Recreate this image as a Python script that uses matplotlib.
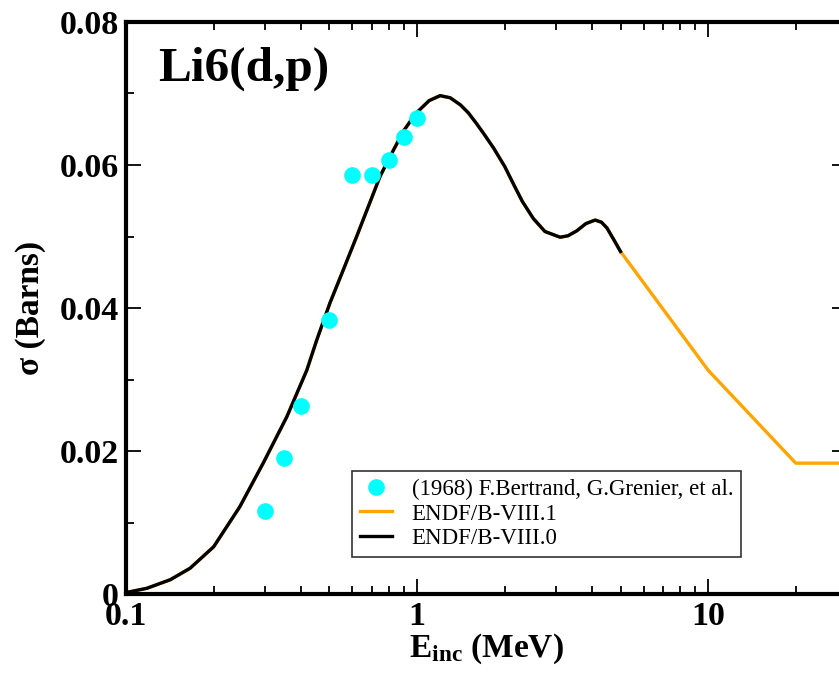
import matplotlib
matplotlib.use("Agg")
import matplotlib.pyplot as plt
from matplotlib.ticker import FixedLocator, NullFormatter

# Experimental data (1968) F.Bertrand, G.Grenier, et al.
exp_e = [0.3, 0.35, 0.4, 0.5, 0.6, 0.7, 0.8, 0.9, 1.0]
exp_xs = [0.0116, 0.0190, 0.0263, 0.0383, 0.0586, 0.0586, 0.0607, 0.0639, 0.0666]

# ENDF/B-VIII.0
b80_e = [0.1, 0.118, 0.142, 0.166, 0.2, 0.246, 0.296, 0.357, 0.418, 0.452, 0.502,
         0.56, 0.62, 0.7, 0.746, 0.808, 0.9, 0.99, 1.1, 1.2, 1.3, 1.41, 1.5, 1.6,
         1.7, 1.83, 2.0, 2.14, 2.3, 2.51, 2.75, 3.1, 3.3, 3.54, 3.8, 4.09, 4.3,
         4.49, 4.75, 5.0]
b80_xs = [0.0002, 0.0008, 0.0020, 0.0036, 0.0066, 0.0122, 0.0183, 0.0248, 0.0313,
          0.0355, 0.0407, 0.0455, 0.0500, 0.0555, 0.0584, 0.0612, 0.0648, 0.0672,
          0.0690, 0.0697, 0.0694, 0.0684, 0.0673, 0.0658, 0.0643, 0.0624, 0.0598,
          0.0574, 0.0549, 0.0525, 0.0507, 0.0499, 0.0501, 0.0508, 0.0518, 0.0523,
          0.0520, 0.0512, 0.0495, 0.0479]

# ENDF/B-VIII.1
b81_e = b80_e + [10.0, 20.0, 30.0]
b81_xs = b80_xs + [0.0313, 0.0183, 0.0183]

x_ticks = [0.1, 1, 10]
x_ticklabels = ['0.1', '1', '10']
y_ticks = [0, 0.02, 0.04, 0.06, 0.08]
y_ticklabels = ['0', '0.02', '0.04', '0.06', '0.08']

plt.rcParams['font.family'] = ['Liberation Serif', 'DejaVu Serif']
plt.rcParams['mathtext.fontset'] = 'custom'
plt.rcParams['mathtext.bf'] = 'Liberation Serif:bold'
plt.rcParams['mathtext.rm'] = 'Liberation Serif'
plt.rcParams['mathtext.it'] = 'Liberation Serif:italic'

fig = plt.figure(figsize=(8.39, 6.73), dpi=100)
ax = fig.add_axes([126/839, 1-594/673, (847-126)/839, (594-22)/673])

l81, = ax.plot(b81_e, b81_xs, color='#ffa500', lw=2.4, label='ENDF/B-VIII.1', zorder=2)
l80, = ax.plot(b80_e, b80_xs, color='black', lw=2.4, label='ENDF/B-VIII.0', zorder=3)
pts, = ax.plot(exp_e, exp_xs, 'o', color='#00ffff', ms=12, mec='none',
               label='(1968) F.Bertrand, G.Grenier, et al.', zorder=4)

ax.set_xscale('log')
ax.set_xlim(0.1, 30)
ax.set_ylim(0, 0.08)

ax.xaxis.set_major_locator(FixedLocator(x_ticks))
ax.set_xticklabels(x_ticklabels)
ax.xaxis.set_minor_locator(FixedLocator([0.2, 0.3, 0.4, 0.5, 0.6, 0.7, 0.8, 0.9,
                                         2, 3, 4, 5, 6, 7, 8, 9, 20]))
ax.xaxis.set_minor_formatter(NullFormatter())
ax.set_yticks(y_ticks)
ax.set_yticklabels(y_ticklabels)
ax.yaxis.set_minor_locator(FixedLocator([0.01, 0.03, 0.05, 0.07]))

ax.tick_params(which='both', direction='in', top=True, right=True, width=1.3)
ax.tick_params(which='major', length=11, labelsize=24.5, pad=5)
ax.tick_params(which='minor', length=6)
for lab in ax.get_xticklabels() + ax.get_yticklabels():
    lab.set_fontweight('bold')
for s in ax.spines.values():
    s.set_linewidth(3)

ax.set_ylabel('σ (Barns)', fontsize=24, fontweight='bold', labelpad=10)
ax.set_xlabel(r'$\mathbf{E}_{\mathbf{inc}}$ (MeV)', fontsize=24, fontweight='bold',
              labelpad=0)

ax.text((158-126)/721, (594-81)/572, 'Li6(d,p)', transform=ax.transAxes,
        fontsize=35.5, fontweight='bold', va='baseline', ha='left')

leg = ax.legend(handles=[pts, l81, l80], loc='lower left',
                bbox_to_anchor=((352-126)/721, (594-557)/572),
                fontsize=16.5, frameon=True, fancybox=False, edgecolor='black',
                borderpad=0.35, labelspacing=0.15, handlelength=1.4,
                handletextpad=0.85, borderaxespad=0)
leg.get_frame().set_linewidth(1.2)

fig.savefig('out.png', dpi=100)
